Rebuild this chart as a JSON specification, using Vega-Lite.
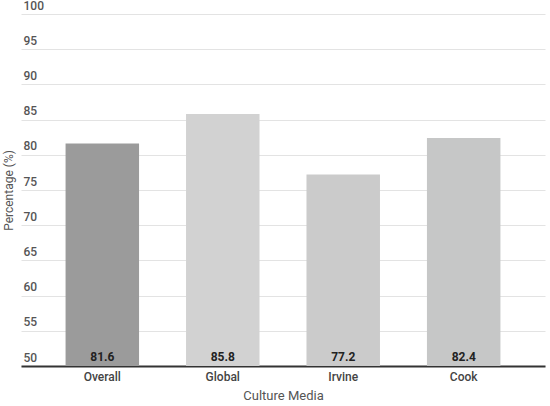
{
  "$schema": "https://vega.github.io/schema/vega-lite/v6.json",
  "width": 524,
  "height": 352,
  "autosize": {"type": "none"},
  "padding": {"left": 21, "top": 14, "right": 5, "bottom": 40},
  "background": "white",
  "config": {
    "view": {"stroke": null},
    "font": "Roboto",
    "axisY": {
      "tickCount": 10,
      "labelOverlap": false,
      "ticks": false,
      "domain": false,
      "grid": true,
      "gridColor": "#e3e3e3",
      "gridWidth": 1,
      "labelAlign": "left",
      "labelBaseline": "bottom",
      "labelPadding": -2,
      "labelOffset": -2,
      "labelColor": "#555555",
      "labelFontSize": 12,
      "labelFontWeight": 500,
      "titleColor": "#555555",
      "titleFontSize": 12,
      "titleFontWeight": "normal",
      "titleX": -13,
      "titleY": 176,
      "titleAngle": -90,
      "titleAlign": "center",
      "titleBaseline": "middle"
    }
  },
  "data": {
    "values": [
      {"media": "Overall", "pct": 81.6, "color": "#9b9b9b"},
      {"media": "Global", "pct": 85.8, "color": "#d2d2d2"},
      {"media": "Irvine", "pct": 77.2, "color": "#cbcbcb"},
      {"media": "Cook", "pct": 82.4, "color": "#c6c7c7"}
    ]
  },
  "encoding": {
    "x": {
      "field": "media",
      "type": "nominal",
      "sort": null,
      "title": "Culture Media",
      "scale": {"paddingInner": 0.39, "paddingOuter": 0.37},
      "axis": {
        "labelAngle": 0,
        "ticks": false,
        "domainColor": "#333333",
        "domainWidth": 2,
        "labelColor": "#444444",
        "labelFontSize": 12,
        "labelFontWeight": 500,
        "labelPadding": 5,
        "titleColor": "#555555",
        "titleFontSize": 13,
        "titleFontWeight": "normal",
        "titlePadding": 7
      }
    }
  },
  "layer": [
    {
      "mark": {"type": "bar"},
      "encoding": {
        "y": {
          "field": "pct",
          "type": "quantitative",
          "title": "Percentage (%)",
          "scale": {"domain": [50, 100], "zero": false, "clamp": true}
        },
        "y2": {"datum": 50},
        "color": {"field": "color", "type": "nominal", "scale": null, "legend": null}
      }
    },
    {
      "mark": {"type": "text", "fontWeight": "bold", "fontSize": 12, "color": "#222222", "baseline": "bottom", "dy": -2},
      "encoding": {
        "y": {"datum": 50, "type": "quantitative"},
        "text": {"field": "pct", "type": "quantitative", "format": ".1f"}
      }
    }
  ]
}
